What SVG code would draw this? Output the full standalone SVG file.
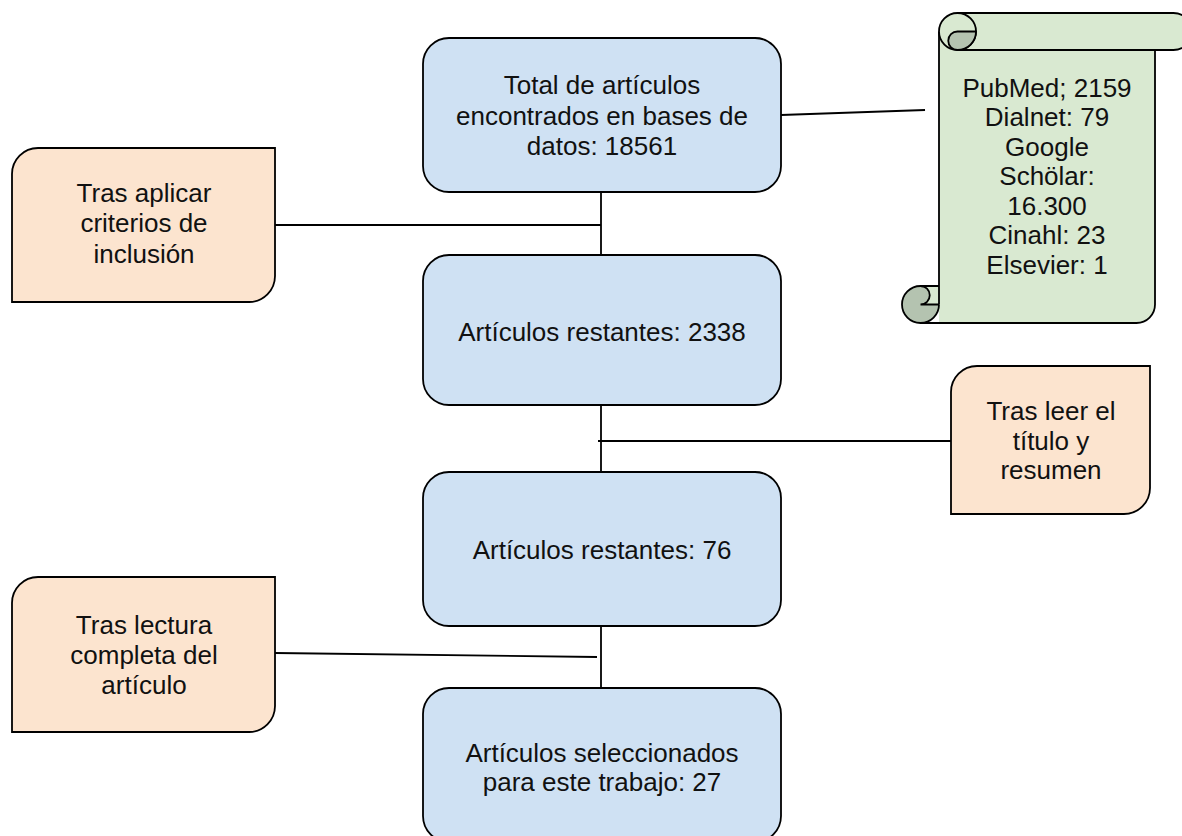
<svg xmlns="http://www.w3.org/2000/svg" width="1182" height="836" viewBox="0 0 1182 836">
<style>
.blue{fill:#cfe1f3;stroke:#000;stroke-width:1.8}
.orange{fill:#fce4cf;stroke:#000;stroke-width:1.8}
.light{fill:#d9e9d1}
.dark{fill:#b4c3b0;stroke:#000;stroke-width:1.8}
.ln{fill:none;stroke:#000;stroke-width:1.8}
text{font-family:"Liberation Sans",Arial,sans-serif;font-size:26px;fill:#111;text-anchor:middle}
</style>
<rect width="1182" height="836" fill="#fff"/>
<g id="connectors" class="ln">
<line x1="781" y1="115" x2="925" y2="110"/>
<line x1="601" y1="192" x2="601" y2="255"/>
<line x1="275" y1="225" x2="601" y2="225"/>
<line x1="601" y1="405" x2="601" y2="472"/>
<line x1="598" y1="441" x2="951" y2="441"/>
<line x1="601" y1="626" x2="601" y2="688"/>
<line x1="275" y1="653" x2="597" y2="657"/>
</g>
<g id="n1">
<rect class="blue" x="423" y="38" width="358" height="154" rx="26"/>
<text x="602" y="94">Total de artículos</text>
<text x="602" y="124.5">encontrados en bases de</text>
<text x="602" y="155">datos: 18561</text>
</g>
<g id="n2">
<rect class="blue" x="423" y="255" width="358" height="150" rx="26"/>
<text x="602" y="340.5">Artículos restantes: 2338</text>
</g>
<g id="n3">
<rect class="blue" x="423" y="472" width="358" height="154" rx="26"/>
<text x="602" y="559">Artículos restantes: 76</text>
</g>
<g id="n4">
<rect class="blue" x="423" y="688" width="358" height="154" rx="26"/>
<text x="602" y="761.5">Artículos seleccionados</text>
<text x="602" y="791">para este trabajo: 27</text>
</g>
<g id="o1">
<path class="orange" d="M38 148L275 148L275 276A26 26 0 0 1 249 302L12 302L12 174A26 26 0 0 1 38 148Z"/>
<text x="144" y="201.5">Tras aplicar</text>
<text x="144" y="232">criterios de</text>
<text x="144" y="262.5">inclusión</text>
</g>
<g id="o2">
<path class="orange" d="M977 366L1150 366L1150 488A26 26 0 0 1 1124 514L951 514L951 392A26 26 0 0 1 977 366Z"/>
<text x="1051" y="420">Tras leer el</text>
<text x="1051" y="450">título y</text>
<text x="1051" y="479">resumen</text>
</g>
<g id="o3">
<path class="orange" d="M38 577L275 577L275 706A26 26 0 0 1 249 732L12 732L12 603A26 26 0 0 1 38 577Z"/>
<text x="144" y="633.5">Tras lectura</text>
<text x="144" y="664">completa del</text>
<text x="144" y="693.5">artículo</text>
</g>
<g id="scroll">
<path class="light" d="M939 31.5L1155 31.5L1155 304.5A18.5 18.5 0 0 1 1136.5 323L939 323Z"/>
<circle class="dark" cx="920.5" cy="304.5" r="18.5"/>
<path class="light" d="M920.5 286L940 286L940 304.5L920.5 304.5A9.25 9.25 0 0 0 920.5 286Z"/>
<path class="ln" d="M939 31.5L939 304.5M1155 50L1155 304.5A18.5 18.5 0 0 1 1136.5 323L920.5 323M939 286L920.5 286A9.25 9.25 0 0 1 920.5 304.5L939 304.5"/>
<rect x="939" y="13" width="253" height="37" rx="18.5" class="light" stroke="#000" stroke-width="1.8"/>
<path class="ln" d="M957.5 13A18.5 18.5 0 0 1 957.5 50"/>
<path class="dark" d="M957.5 31.5L976 31.5A18.5 18.5 0 0 1 957.5 50A9.25 9.25 0 0 1 957.5 31.5Z"/>
<text x="1047" y="96.5">PubMed; 2159</text>
<text x="1047" y="126">Dialnet: 79</text>
<text x="1047" y="155.5">Google</text>
<text x="1047" y="185">Schölar:</text>
<text x="1047" y="214.5">16.300</text>
<text x="1047" y="244">Cinahl: 23</text>
<text x="1047" y="273.5">Elsevier: 1</text>
</g>
</svg>
